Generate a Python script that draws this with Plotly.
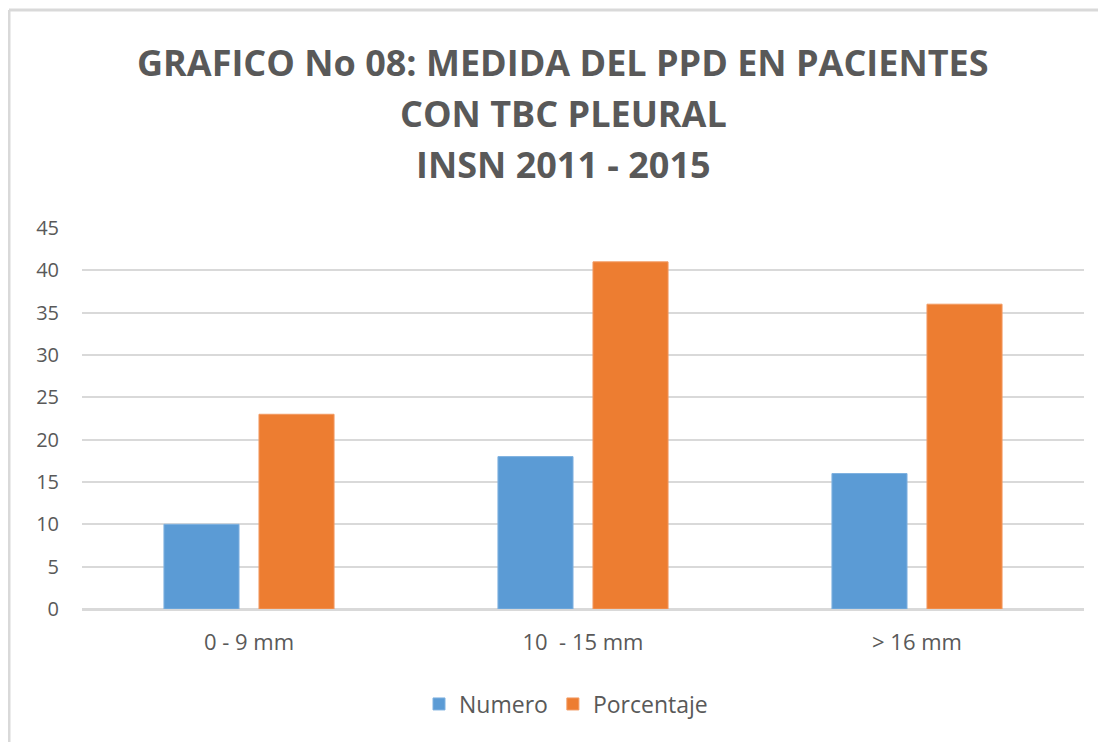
import plotly.graph_objects as go

categories = ["0 - 9 mm", "10  - 15 mm", "> 16 mm"]
numero = [10, 18, 16]
porcentaje = [23, 41, 36]
title_lines = ["GRAFICO No 08: MEDIDA DEL PPD EN PACIENTES", "CON TBC PLEURAL", "INSN 2011 - 2015"]
y_ticks = list(range(0, 50, 5))

FONT = "'Open Sans', Lato, sans-serif"
GRAY = "#595959"

OFF = 8  # page body margin
W, H = 1106 - OFF, 742 - OFF
# plot area in reference (screen) pixels
X0, X1, Y0, Y1 = 82, 1084, 228, 609
L, R, T, B = X0 - OFF, (W + OFF) - X1, Y0 - OFF, (H + OFF) - Y1
pw, ph = X1 - X0, Y1 - Y0

def px(x):
    return (x - X0) / pw

def py(y):
    return (Y1 - y) / ph

fig = go.Figure()
fig.add_trace(go.Bar(x=categories, y=numero, name="Numero",
                     marker=dict(color="#5b9bd5", line=dict(color="#7fb1e0", width=1))))
fig.add_trace(go.Bar(x=categories, y=porcentaje, name="Porcentaje",
                     marker=dict(color="#ed7d31", line=dict(color="#f29a62", width=1))))

for txt, yc in zip(title_lines, [62, 113, 164]):
    fig.add_annotation(text="<b>" + txt + "</b>", xref="paper", yref="paper",
                       x=px(563), y=py(yc), xanchor="center", yanchor="middle",
                       showarrow=False, font=dict(family=FONT, size=36, color=GRAY))

# outer frame (left and top edges)
fig.add_shape(type="line", xref="paper", yref="paper", x0=px(9), x1=px(9), y0=py(10), y1=py(760),
              line=dict(color="#d9d9d9", width=3))
fig.add_shape(type="line", xref="paper", yref="paper", x0=px(9), x1=px(1120), y0=py(10), y1=py(10),
              line=dict(color="#d9d9d9", width=3))

fig.update_layout(
    width=W, height=H,
    margin=dict(l=L, r=R, t=T, b=B),
    paper_bgcolor="white", plot_bgcolor="white",
    barmode="group", bargap=0.431, bargroupgap=0.21,
    font=dict(family=FONT, color=GRAY, size=20),
    showlegend=True,
    legend=dict(orientation="h", x=px(566), y=py(704), xanchor="center", yanchor="middle",
                font=dict(family=FONT, size=23, color=GRAY), itemwidth=30,
                traceorder="normal"),
    xaxis=dict(showgrid=False, showline=True, linecolor="#d9d9d9", linewidth=1.5,
               ticks="", ticklabelstandoff=13, tickfont=dict(size=22, color=GRAY)),
    yaxis=dict(range=[0, 45], tickvals=y_ticks, showgrid=True, gridcolor="#d9d9d9", gridwidth=1.5,
               zeroline=True, zerolinecolor="#d9d9d9", zerolinewidth=1.5, showline=False,
               ticks="", ticklabelstandoff=22, tickfont=dict(size=20, color=GRAY)),
)

fig.write_html("out.html")
